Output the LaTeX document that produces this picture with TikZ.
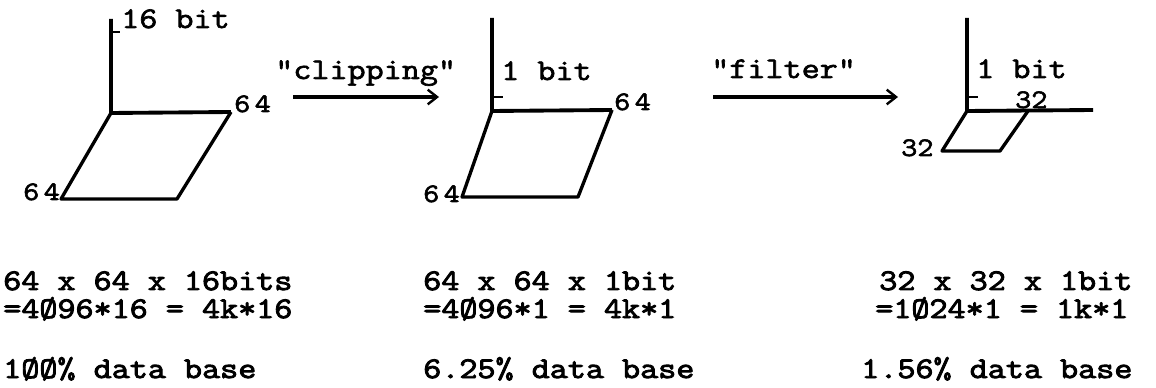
\documentclass[tikz,border=0pt]{standalone}
\usepackage{fontspec}
\newfontfamily\tw{Latin Modern Mono}[FakeBold=2.2,FakeStretch=1.17]
\newfontfamily\twb{Latin Modern Mono}[FakeBold=3,FakeStretch=1.17]
\usetikzlibrary{arrows.meta}
\begin{document}
\begin{tikzpicture}[x=0.75pt,y=-0.75pt,
  lbl/.style={inner sep=0pt,anchor=base west,font=\tw\fontsize{22.5}{22.5}\selectfont},
  num/.style={inner sep=0pt,anchor=base west,font=\tw\fontsize{20}{20}\selectfont},
  bot/.style={inner sep=0pt,anchor=base west,font=\twb\fontsize{22.5}{22.5}\selectfont},
  axis/.style={line width=2.9pt},
  plane/.style={line width=2.5pt,line join=round},
  tick/.style={line width=2pt},
  flow/.style={line width=2.4pt,-{Straight Barb[length=7pt,width=11pt,line width=1.8pt]}}]
\useasboundingbox (0,0) rectangle (1156,388);

% ---------- panel 1 ----------
\coordinate (a1) at (111,19);
\coordinate (o1) at (111,113);
\coordinate (r1) at (231,112);
\coordinate (br1) at (177,199);
\coordinate (bl1) at (61,199);
\coordinate (t1a) at (111,32);
\coordinate (t1b) at (120,32);
\draw[axis] (a1) -- (o1) -- (r1);
\draw[plane] (o1) -- (bl1) -- (br1) -- (r1);
\draw[tick] (t1a) -- (t1b);
\node[lbl] (b16) at (121,28) {16 bit};
\node[num] (n1r) at (234,112) {6\,4};
\node[num] (n1l) at (23,200) {6\,4};

% ---------- arrow 1 ----------
\node[lbl] (clip) at (275,79) {"clipping"};
\coordinate (c1s) at (293,97);
\coordinate (c1e) at (439,97);
\draw[flow] (c1s) -- (c1e);

% ---------- panel 2 ----------
\coordinate (a2) at (492,18);
\coordinate (o2) at (492,111);
\coordinate (r2) at (612,110);
\coordinate (br2) at (578,197);
\coordinate (bl2) at (462,197);
\coordinate (t2a) at (492,97);
\coordinate (t2b) at (503,97);
\draw[axis] (a2) -- (o2) -- (r2);
\draw[plane] (o2) -- (bl2) -- (br2) -- (r2);
\draw[tick] (t2a) -- (t2b);
\node[lbl] (b1a) at (501,80) {1 bit};
\node[num] (n2r) at (614,110) {6\,4};
\node[num] (n2l) at (423,202) {6\,4};

% ---------- arrow 2 ----------
\node[lbl] (filt) at (711,78) {"filter"};
\coordinate (c2s) at (713,97);
\coordinate (c2e) at (898,97);
\draw[flow] (c2s) -- (c2e);

% ---------- panel 3 ----------
\coordinate (a3) at (967,18);
\coordinate (o3) at (967,111);
\coordinate (r3) at (1093,110);
\coordinate (tr3) at (1028,111);
\coordinate (br3) at (1000,151);
\coordinate (bl3) at (942,151);
\coordinate (t3a) at (967,97);
\coordinate (t3b) at (978,97);
\draw[axis] (a3) -- (o3) -- (r3);
\draw[plane] (o3) -- (bl3) -- (br3) -- (tr3);
\draw[tick] (t3a) -- (t3b);
\node[lbl] (b1b) at (976,78) {1 bit};
\node[num] (n3r) at (1015,108) {32};
\node[num] (n3l) at (901,156) {32};

% ---------- bottom texts ----------
\node[bot] (s1a) at (3,290) {64 x 64 x 16bits};
\node[bot] (s1b) at (3,318) {=4Ø96*16 = 4k*16};
\node[bot] (s1c) at (3,378) {1ØØ\% data base};
\node[bot] (s2a) at (423,290) {64 x 64 x 1bit};
\node[bot] (s2b) at (423,318) {=4Ø96*1 = 4k*1};
\node[bot] (s2c) at (423,378) {6.25\% data base};
\node[bot] (s3a) at (879,290) {32 x 32 x 1bit};
\node[bot] (s3b) at (875,318) {=1Ø24*1 = 1k*1};
\node[bot] (s3c) at (861,378) {1.56\% data base};
\end{tikzpicture}
\end{document}
